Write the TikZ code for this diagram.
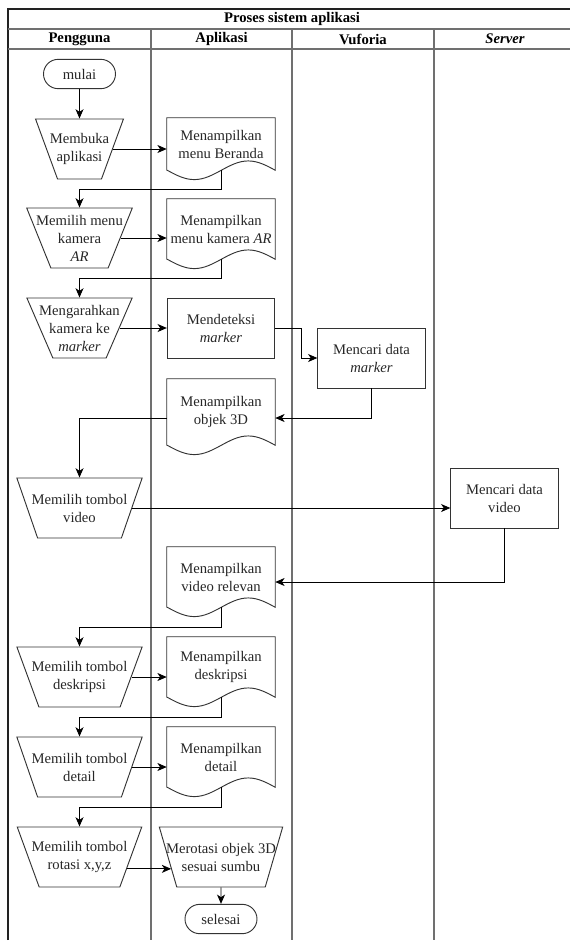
\documentclass[tikz,border=0pt]{standalone}
\usepackage{fontspec}
\setmainfont{Liberation Serif}
\usetikzlibrary{arrows.meta,positioning,calc,shapes.geometric}
\definecolor{shapeline}{HTML}{333333}
\definecolor{laneline}{HTML}{707070}
\definecolor{frameline}{HTML}{222222}
% document outline: sides plus a wavy bottom below the node
\newcommand{\docshape}[1]{%
  \draw[shapeline,line width=0.7pt] (#1.south west) -- (#1.north west) -- (#1.north east) -- (#1.south east)
    sin ++(-20.25pt,7pt) cos ++(-20.25pt,-7pt) sin ++(-20.25pt,-7pt) cos ++(-20.25pt,7pt) -- cycle;}

\begin{document}
\begin{tikzpicture}[
 x=0.75pt,y=-0.75pt,
 font=\fontsize{11}{13.5}\selectfont,
 lane/.style={draw=laneline,line width=1.1pt},
 hdr/.style={font=\fontsize{11}{13.5}\selectfont\bfseries},
 termbox/.style={draw=shapeline,line width=0.7pt,rectangle,rounded corners=11pt,minimum width=54pt,minimum height=22pt,inner sep=1pt,text=black!85},
 procbox/.style={draw=shapeline,line width=0.7pt,rectangle,minimum width=80.5pt,minimum height=45pt,align=center,inner sep=1pt,text=black!85},
 docbox/.style={rectangle,minimum width=81pt,minimum height=#1,align=center,inner sep=1pt,text=black!85},
 manop/.style={draw=shapeline,line width=0.7pt,trapezium,trapezium left angle=#1,trapezium right angle=#1,
   trapezium stretches=true,minimum height=45pt,inner xsep=-15pt,inner ysep=1pt,align=center,text=black!85},
 arr/.style={-{Stealth[length=7pt,width=6pt,inset=2pt]},line width=0.7pt,black}]
\useasboundingbox (0,0) rectangle (570,943);

% swimlanes
\draw[frameline,line width=1.4pt] (8,940) -- (8,9) -- (576,9) -- (576,940);
\draw[lane] (8,29) -- (576,29);
\draw[lane] (8,49) -- (576,49);
\foreach \x in {151,292,434} \draw[lane] (\x,29) -- (\x,940);
\node[hdr] (judul) at (292,19) {Proses sistem aplikasi};
\node[hdr] (hPengguna) at (79.5,39) {Pengguna};
\node[hdr] (hAplikasi) at (221.5,39) {Aplikasi};
\node[hdr] (hVuforia) at (363,39) {Vuforia};
\node[hdr] (hServer) at (505,39) {\itshape Server};

% Pengguna
\node[termbox] (mulai) at (79.5,74) {mulai};
\node[manop=106,minimum width=66pt] (buka) at (79.5,149) {Membuka\\aplikasi};
\node[manop=112,minimum width=79.5pt] (pilihAR) at (79.5,238) {Memilih menu\\kamera\\\textit{AR}};
\node[manop=112,minimum width=79pt] (arahkan) at (79.5,328) {Mengarahkan\\kamera ke\\\textit{marker}};
\node[manop=114,minimum width=94pt] (tVid) at (79.5,508) {Memilih tombol\\video};
\node[manop=114,minimum width=94pt] (tDesk) at (79.5,677) {Memilih tombol\\deskripsi};
\node[manop=114,minimum width=94pt] (tDet) at (79.5,767) {Memilih tombol\\detail};
\node[manop=114,minimum width=94pt] (tRot) at (79.5,857) {Memilih tombol\\rotasi x,y,z};

% Aplikasi
\node[docbox=39pt] (beranda) at (221,144) {Menampilkan\\menu Beranda};
\node[docbox=45pt] (docAR) at (221,229) {Menampilkan\\menu kamera \textit{AR}};
\node[procbox] (deteksi) at (221,328) {Mendeteksi\\\textit{marker}};
\node[docbox=49.5pt] (doc3D) at (221,412) {Menampilkan\\objek 3D};
\node[docbox=45pt] (docVid) at (221,577) {Menampilkan\\video relevan};
\node[docbox=45pt] (docDesk) at (221,667) {Menampilkan\\deskripsi};
\node[docbox=45pt] (docDet) at (221,757) {Menampilkan\\detail};
\node[manop=114,minimum width=93pt] (mrt) at (221,857) {Merotasi objek 3D\\sesuai sumbu};
\node[termbox] (selesai) at (221,919) {selesai};
\foreach \d in {beranda,docAR,doc3D,docVid,docDesk,docDet} {\docshape{\d}}

% Vuforia & Server
\node[procbox] (cariMarker) at (371.5,358) {Mencari data\\\textit{marker}};
\node[procbox] (cariVid) at (504.5,498) {Mencari data\\video};

% alur
\draw[arr] (mulai) -- (buka);
\draw[arr] (buka.east) -- (buka.east -| beranda.west);
\draw[arr] (beranda.south) -- ++(0,19) -| (pilihAR.north);
\draw[arr] (pilihAR.east) -- (pilihAR.east -| docAR.west);
\draw[arr] (docAR.south) -- ++(0,19) -| (arahkan.north);
\draw[arr] (arahkan.east) -- (arahkan.east -| deteksi.west);
\draw[arr] (deteksi.east) -- ++(26,0) |- (cariMarker.west);
\draw[arr] (cariMarker.south) |- ([yshift=-4.5pt]doc3D.east);
\draw[arr] ([yshift=-4.5pt]doc3D.west) -| (tVid.north);
\draw[arr] (tVid.east) -- (tVid.east -| cariVid.west);
\draw[arr] (cariVid.south) |- ([yshift=-3.75pt]docVid.east);
\draw[arr] (docVid.south) -- ++(0,20) -| (tDesk.north);
\draw[arr] (tDesk.east) -- (tDesk.east -| docDesk.west);
\draw[arr] (docDesk.south) -- ++(0,20) -| (tDet.north);
\draw[arr] (tDet.east) -- (tDet.east -| docDet.west);
\draw[arr] (docDet.south) -- ++(0,20) -| (tRot.north);
\draw[arr] (tRot.346) -- (tRot.346 -| mrt.194);
\draw[arr] (mrt) -- (selesai);
\end{tikzpicture}
\end{document}
